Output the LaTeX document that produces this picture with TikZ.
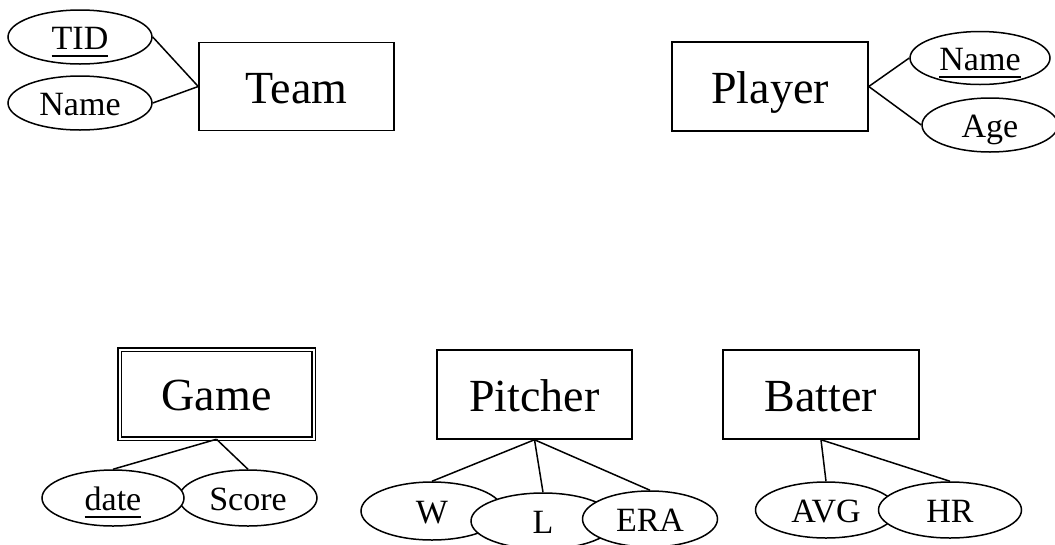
\documentclass[tikz,border=0pt]{standalone}
\usepackage{fontspec}
\setmainfont{Liberation Serif}
\usetikzlibrary{shapes.geometric}

% underlined key attribute
\newcommand{\keyattr}[1]{\setbox0\hbox{#1}\rlap{\rule[-8pt]{\wd0}{1.8pt}}\box0}

\begin{document}
\begin{tikzpicture}[x=1pt,y=-1pt,line width=1.5pt,
    entity/.style={draw, rectangle, inner sep=0pt, minimum width=195pt, minimum height=88pt,
                   text height=33pt, text depth=0pt, font=\fontsize{46}{50}\selectfont},
    weak/.style={entity, double, double distance=2pt, minimum width=194pt, minimum height=89pt},
    attr/.style={draw, ellipse, fill=white, inner sep=0pt, minimum width=142pt, minimum height=55pt,
                 text height=24pt, text depth=0pt, font=\fontsize{34}{38}\selectfont}]

    \useasboundingbox (0,0) rectangle (1055,544);

    % ================= TOP ROW =================
    \node[entity] (team) at (296.5,86.5) {Team};
    \node[attr, minimum width=144pt, minimum height=54pt] (tid) at (80,37) {\keyattr{TID}};
    \node[attr, minimum width=144pt, minimum height=54pt] (tname) at (80,103) {Name};

    \draw (tid.east) -- (team.west);
    \draw (tname.east) -- (team.west);

    \node[entity, minimum width=196pt, minimum height=89pt] (player) at (770,86.5) {Player};
    \node[attr, minimum width=140pt, minimum height=53pt] (pname) at (980,58) {\keyattr{Name}};
    \node[attr, minimum width=136pt, minimum height=54pt] (age) at (990,125) {Age};

    \draw (player.east) -- (pname.west);
    \draw (player.east) -- (age.west);

    % ================= BOTTOM ROW =================
    \node[weak] (game) at (216.5,394) {Game};
    \node[attr, minimum width=138pt, minimum height=56pt] (score) at (248,498) {Score};
    \node[attr, minimum width=142pt, minimum height=56pt] (date) at (113,498) {\keyattr{date}};

    \draw (game.south) -- (date.north);
    \draw (game.south) -- (score.north);

    \node[entity, minimum height=89pt] (pitcher) at (534.5,394.5) {Pitcher};
    \node[attr, minimum height=58pt] (w) at (432,511) {W};
    \node[attr, minimum width=144pt, minimum height=56pt] (l) at (543,521) {L};
    \node[attr, minimum width=135pt, minimum height=56pt] (era) at (650,519) {ERA};

    \draw (pitcher.south) -- (w.north);
    \draw (pitcher.south) -- (l.north);
    \draw (pitcher.south) -- (era.north);

    \node[entity, minimum width=196pt, minimum height=89pt] (batter) at (821,394.5) {Batter};
    \node[attr, minimum width=141pt, minimum height=56pt] (avg) at (826,510) {AVG};
    \node[attr, minimum width=143pt, minimum height=56pt] (hr) at (950,510) {HR};

    \draw (batter.south) -- (avg.north);
    \draw (batter.south) -- (hr.north);

\end{tikzpicture}
\end{document}
